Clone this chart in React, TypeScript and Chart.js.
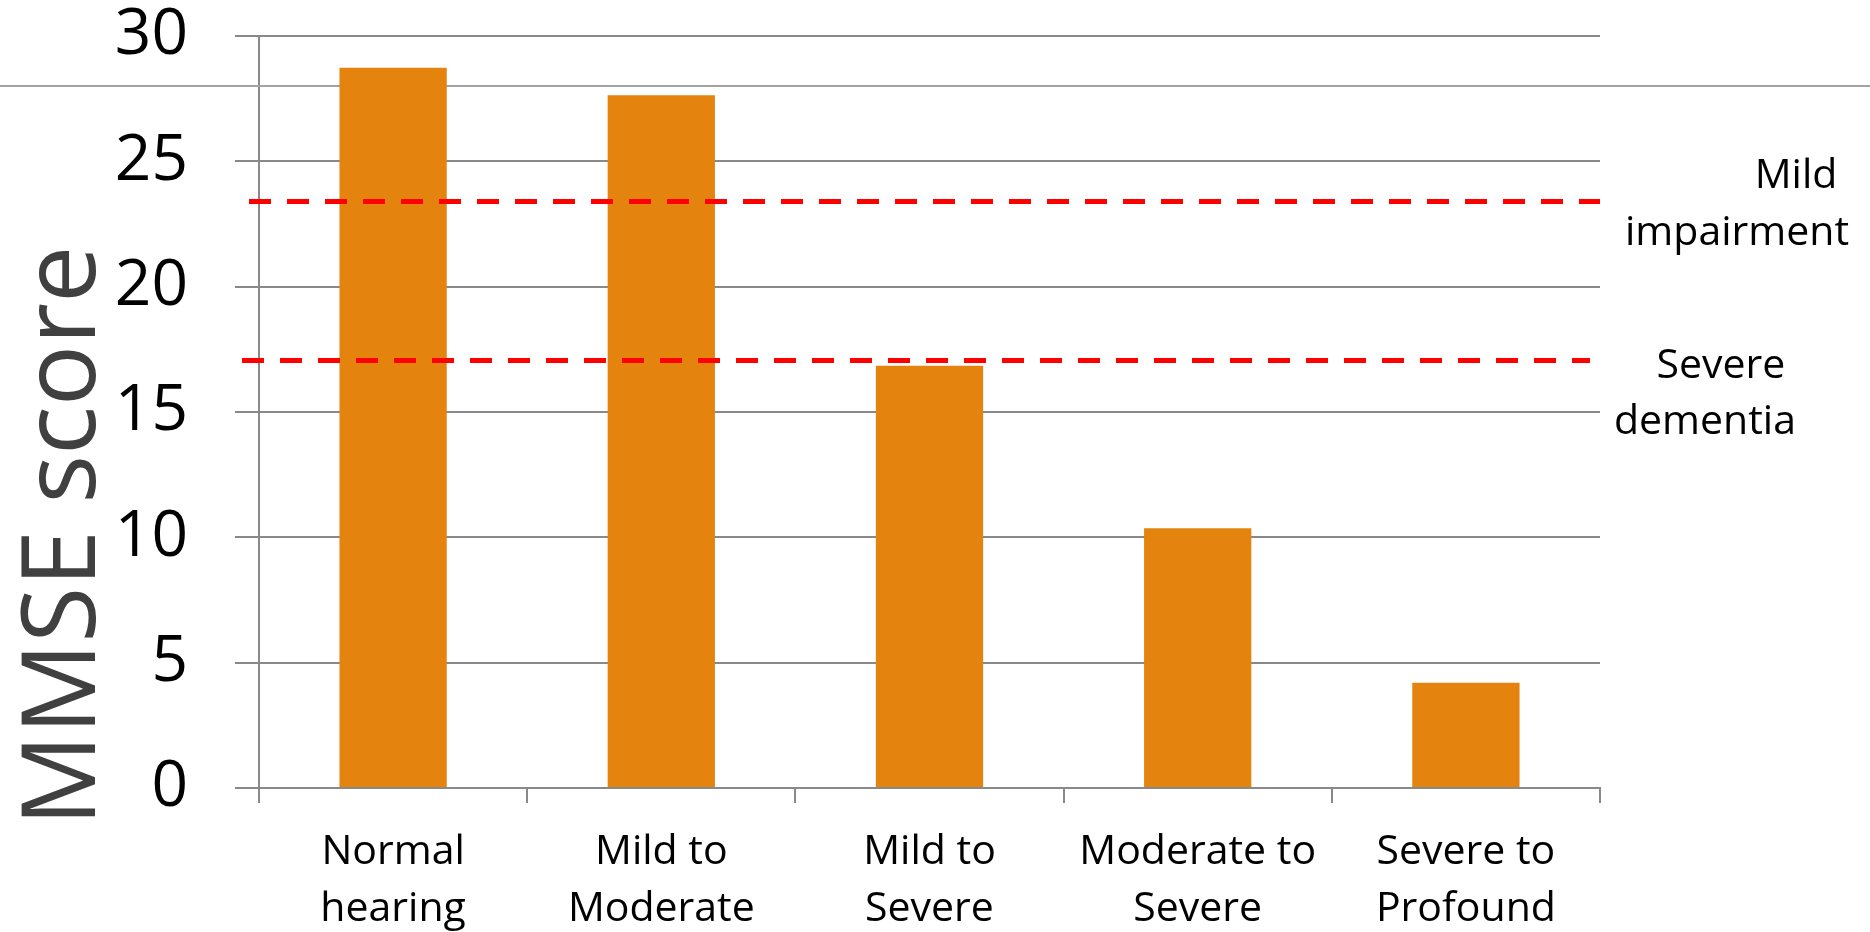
import { useEffect, useRef } from "react";
import { Chart, registerables } from "chart.js";

Chart.register(...registerables);

// Hearing-loss groups (two-line axis labels)
const categories: string[][] = [
  ["Normal", "hearing"],
  ["Mild to", "Moderate"],
  ["Mild to", "Severe"],
  ["Moderate to", "Severe"],
  ["Severe to", "Profound"],
];

// Mean MMSE score per group
const mmseScores: number[] = [28.73, 27.64, 16.85, 10.36, 4.2];

// Y axis range / ticks
const yMin = 0;
const yMax = 30;
const yStep = 5;

// Cut-off lines and their captions
const thresholdValues: number[] = [23.4, 17.05];
const thresholdCaptions: string[][] = [
  ["Mild", "impairment"],
  ["Severe", "dementia"],
];

const yAxisTitle = "MMSE score";

const FONT = "'Open Sans', 'Liberation Sans', sans-serif";
const GRID = "#898989";

const decorations = {
  id: "decorations",
  beforeDatasetsDraw(chart: any) {
    const { ctx } = chart;
    // thin slide rule across the full width
    ctx.save();
    ctx.strokeStyle = "#a3a3a3";
    ctx.lineWidth = 2;
    ctx.beginPath();
    ctx.moveTo(0, 86);
    ctx.lineTo(chart.width, 86);
    ctx.stroke();
    ctx.restore();
  },
  afterDatasetsDraw(chart: any) {
    const { ctx, chartArea } = chart;
    const y = chart.scales.y;
    ctx.save();
    ctx.strokeStyle = "#ff0000";
    ctx.lineWidth = 5;
    ctx.setLineDash([22, 16]);
    const starts = [chartArea.left - 10, chartArea.left - 17];
    const ends = [chartArea.right, chartArea.right - 10];
    thresholdValues.forEach((v, i) => {
      const py = y.getPixelForValue(v);
      ctx.beginPath();
      ctx.moveTo(starts[i], py);
      ctx.lineTo(ends[i], py);
      ctx.stroke();
    });
    ctx.setLineDash([]);

    // captions beside the cut-off lines
    ctx.fillStyle = "#000000";
    ctx.font = `41px ${FONT}`;
    ctx.textAlign = "center";
    ctx.textBaseline = "alphabetic";
    const offsets = [
      [
        [196, -13],
        [137, 44],
      ],
      [
        [121, 17],
        [105, 73],
      ],
    ];
    thresholdValues.forEach((v, i) => {
      const py = y.getPixelForValue(v);
      thresholdCaptions[i].forEach((line, j) => {
        const [dx, dy] = offsets[i][j];
        ctx.fillText(line, chartArea.right + dx, py + dy);
      });
    });

    // rotated axis title
    ctx.fillStyle = "#404040";
    ctx.font = `102px ${FONT}`;
    ctx.translate(95, chartArea.bottom - 252);
    ctx.rotate(-Math.PI / 2);
    ctx.textAlign = "center";
    ctx.textBaseline = "alphabetic";
    ctx.fillText(yAxisTitle, 0, 0);
    ctx.restore();
  },
};

export default function App() {
  const canvasRef = useRef<HTMLCanvasElement | null>(null);

  useEffect(() => {
    document.body.style.margin = "0";
    const canvas = canvasRef.current;
    if (!canvas) return;
    const chart = new Chart(canvas, {
      type: "bar",
      data: {
        labels: categories,
        datasets: [
          {
            data: mmseScores,
            backgroundColor: "#e5830f",
            barPercentage: 0.4,
            categoryPercentage: 1,
          },
        ],
      },
      options: {
        animation: false,
        responsive: true,
        maintainAspectRatio: false,
        layout: { padding: { top: 36, right: 270, left: 0, bottom: 0 } },
        plugins: {
          legend: { display: false },
          tooltip: { enabled: false },
          title: { display: false },
        },
        scales: {
          x: {
            grid: {
              offset: true,
              drawOnChartArea: false,
              drawTicks: true,
              tickLength: 15,
              color: GRID,
              lineWidth: 2,
            },
            border: { display: true, color: GRID, width: 2 },
            ticks: {
              color: "#000000",
              font: { family: FONT, size: 41, lineHeight: 1.39 },
              padding: 21,
              maxRotation: 0,
              autoSkip: false,
            },
            afterFit: (s: any) => {
              s.height = 144;
            },
          },
          y: {
            min: yMin,
            max: yMax,
            grid: {
              color: GRID,
              lineWidth: 2,
              drawTicks: true,
              tickLength: 24,
            },
            border: { display: true, color: GRID, width: 2 },
            ticks: {
              stepSize: yStep,
              color: "#000000",
              font: { family: FONT, size: 64, lineHeight: 1 },
              padding: 47,
            },
            afterFit: (s: any) => {
              s.width = 259;
              s.paddingTop = 30;
              s.paddingBottom = 30;
            },
          },
        },
      },
      plugins: [decorations],
    });
    return () => chart.destroy();
  }, []);

  return (
    <div style={{ position: "relative", width: "1870px", height: "932px", background: "#fff" }}>
      <canvas ref={canvasRef} />
    </div>
  );
}
